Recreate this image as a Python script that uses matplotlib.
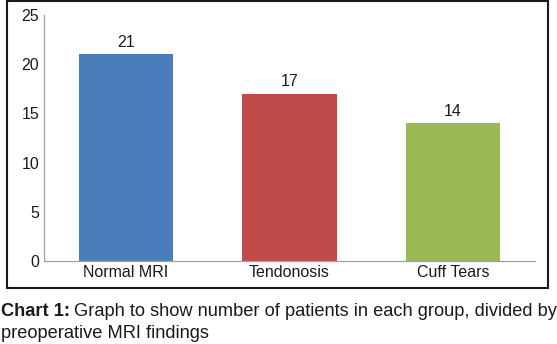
import matplotlib
matplotlib.use("Agg")
import matplotlib.pyplot as plt
from matplotlib.patches import Rectangle

categories = ["Normal MRI", "Tendonosis", "Cuff Tears"]
values = [21, 17, 14]
colors = ["#4A7EBB", "#BE4B48", "#98B954"]
yticks = [0, 5, 10, 15, 20, 25]

plt.rcParams['font.family'] = ['Liberation Sans', 'DejaVu Sans']

W, H = 557, 344
fig = plt.figure(figsize=(W / 100, H / 100), dpi=100)

# outer frame
fig.patches.append(Rectangle((7 / W, 1 - 288 / H), (548 - 7) / W, (288 - 1) / H,
                             transform=fig.transFigure, fill=False,
                             edgecolor="#1a1a1a", linewidth=1.5))

ax = fig.add_axes([44 / W, 1 - 261 / H, (535 - 44) / W, (261 - 15) / H])
x = range(len(categories))
ax.bar(x, values, width=0.575, color=colors)
for xi, v in zip(x, values):
    ax.text(xi, v + 0.78, str(v), ha="center", va="baseline", fontsize=11.5, color="#1a1a1a")

ax.set_xlim(-0.5, 2.5)
ax.set_ylim(0, 25)
ax.set_yticks(yticks)
ax.set_xticks(list(x))
ax.set_xticklabels(categories)
ax.tick_params(axis="both", length=0, labelsize=11.5, colors="#1a1a1a")
ax.tick_params(axis="y", pad=3.5)
ax.tick_params(axis="x", pad=3)
for s in ["top", "right"]:
    ax.spines[s].set_visible(False)
for s in ["left", "bottom"]:
    ax.spines[s].set_color("#a0a0a0")
    ax.spines[s].set_linewidth(0.9)

# caption
cap_fs = 13.15
y1 = 1 - 316 / H
t1 = fig.text(1 / W, y1, "Chart 1:", fontsize=cap_fs, fontweight="bold",
              color="#1a1a1a", va="baseline", ha="left")
fig.canvas.draw()
x_end = t1.get_window_extent().x1
fig.text(x_end / W + 3.5 / W, y1, "Graph to show number of patients in each group, divided by",
         fontsize=cap_fs, color="#1a1a1a", va="baseline", ha="left")
fig.text(1 / W, 1 - 338 / H, "preoperative MRI findings", fontsize=cap_fs,
         color="#1a1a1a", va="baseline", ha="left")

fig.savefig("out.png", dpi=100)
